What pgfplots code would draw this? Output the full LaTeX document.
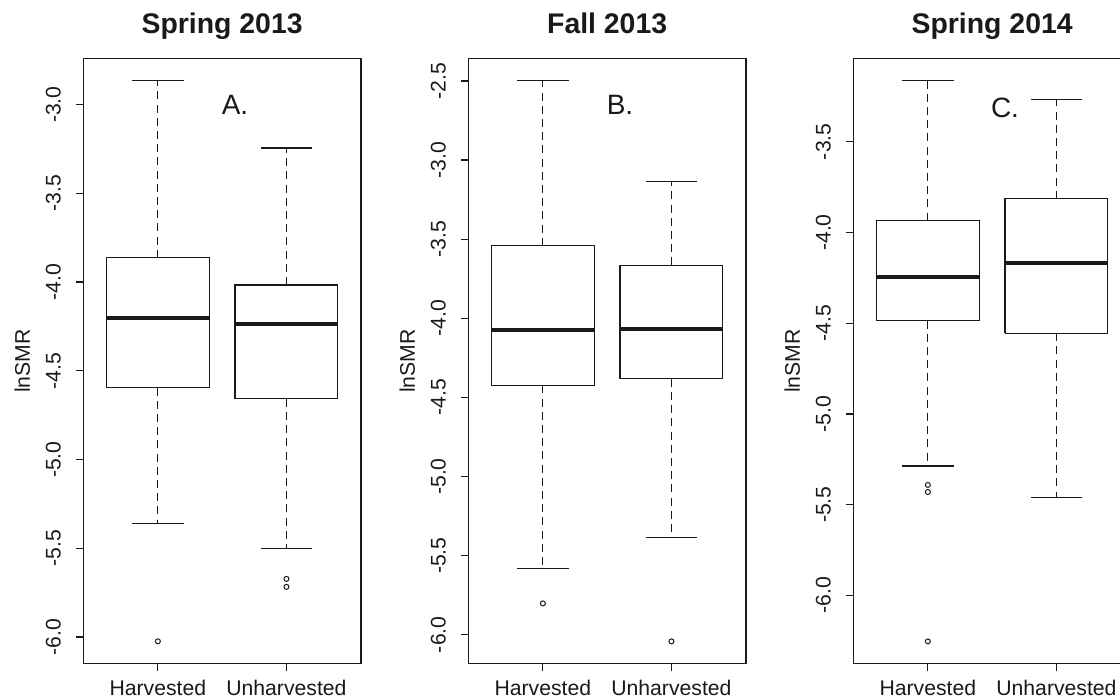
\documentclass[border=0pt]{standalone}
\usepackage{pgfplots}
\pgfplotsset{compat=1.18}
\usepackage{fontspec}
\setmainfont{Liberation Sans}
\definecolor{ink}{HTML}{1A1A1A}

\pgfplotsset{
  boxline/.style={ink, solid, line width=0.6pt, no markers, line join=miter},
  medline/.style={ink, solid, line width=2pt, no markers},
  whisk/.style={ink, line width=0.6pt, no markers, dash pattern=on 4pt off 2.6pt},
  cap/.style={ink, only marks, mark=-, mark size=12.86pt,
    mark options={solid, line width=0.6pt}},
  outl/.style={ink, only marks, mark=o, mark size=1.25pt,
    mark options={solid, line width=0.5pt}},
  panel/.style={
    scale only axis, width=138.85pt, height=302.7pt,
    anchor=south west,
    xmin=0.42, xmax=2.58,
    xtick={1,2}, xticklabels={Harvested,Unharvested},
    xtick pos=left, ytick pos=left,
    tick align=outside, major tick length=3.5pt,
    axis line style={ink, line width=0.6pt},
    every tick/.style={ink, line width=0.6pt},
    tick label style={font=\fontsize{10.6}{12}\selectfont, text=ink},
    /pgf/number format/assume math mode=true,
    yticklabel style={rotate=90, anchor=base, inner sep=0pt,
      /pgf/number format/.cd, fixed, fixed zerofill, precision=1},
    yticklabel shift=7.8pt,
    xticklabel style={anchor=base, inner sep=0pt},
    xticklabel shift=12.6pt,
    ylabel={lnSMR},
    every axis y label/.style={at={(axis description cs:-0.192,0.5)},
      anchor=base, rotate=90, font=\fontsize{10.6}{12}\selectfont, text=ink},
    every axis title/.style={at={(axis description cs:0.5,1)},
      anchor=base, yshift=12.5pt,
      font=\fontsize{14.2}{17}\selectfont\bfseries, text=ink},
  },
}

% One box-and-whisker group:
% #1 box left, #2 centre, #3 box right,
% #4 lower whisker, #5 lower quartile, #6 median, #7 upper quartile, #8 upper whisker
\newcommand{\rbox}[8]{%
  \addplot[whisk] coordinates {(#2,#7) (#2,#8)};
  \addplot[whisk] coordinates {(#2,#5) (#2,#4)};
  \addplot[cap] coordinates {(#2,#8) (#2,#4)};
  \addplot[boxline] coordinates {(#1,#5) (#3,#5) (#3,#7) (#1,#7) (#1,#5)};
  \addplot[medline] coordinates {(#1,#6) (#3,#6)};
}

\begin{document}
\begin{tikzpicture}
\useasboundingbox (0,0) rectangle (560pt,350pt);

% Spring 2013
\begin{axis}[panel, at={(41.65pt,18.15pt)},
  ymin=-6.150, ymax=-2.739, ytick={-6,-5.5,...,-3},
  title={Spring 2013}]
  \rbox{0.6}{1}{1.4}{-5.362}{-4.594}{-4.200}{-3.863}{-2.865}
  \addplot[outl] coordinates {(1,-6.024)};
  \rbox{1.6}{2}{2.4}{-5.501}{-4.657}{-4.237}{-4.016}{-3.244}
  \addplot[outl] coordinates {(2,-5.672) (2,-5.717)};
  \node[font=\fontsize{14}{17}\selectfont, text=ink] at (axis cs:1.6,-3.0) {A.};
\end{axis}

% Fall 2013
\begin{axis}[panel, at={(234.15pt,18.15pt)},
  ymin=-6.183, ymax=-2.357, ytick={-6,-5.5,...,-2.5},
  title={Fall 2013}]
  \rbox{0.6}{1}{1.4}{-5.579}{-4.424}{-4.072}{-3.542}{-2.498}
  \addplot[outl] coordinates {(1,-5.802)};
  \rbox{1.6}{2}{2.4}{-5.385}{-4.383}{-4.066}{-3.666}{-3.138}
  \addplot[outl] coordinates {(2,-6.042)};
  \node[font=\fontsize{14}{17}\selectfont, text=ink] at (axis cs:1.6,-2.652) {B.};
\end{axis}

% Spring 2014
\begin{axis}[panel, at={(426.65pt,18.15pt)},
  ymin=-6.376, ymax=-3.040, ytick={-6,-5.5,...,-3.5},
  title={Spring 2014}]
  \rbox{0.6}{1}{1.4}{-5.287}{-4.485}{-4.245}{-3.934}{-3.162}
  \addplot[outl] coordinates {(1,-5.391) (1,-5.430) (1,-6.253)};
  \rbox{1.6}{2}{2.4}{-5.461}{-4.555}{-4.169}{-3.814}{-3.267}
  \node[font=\fontsize{14}{17}\selectfont, text=ink] at (axis cs:1.6,-3.312) {C.};
\end{axis}
\end{tikzpicture}
\end{document}
